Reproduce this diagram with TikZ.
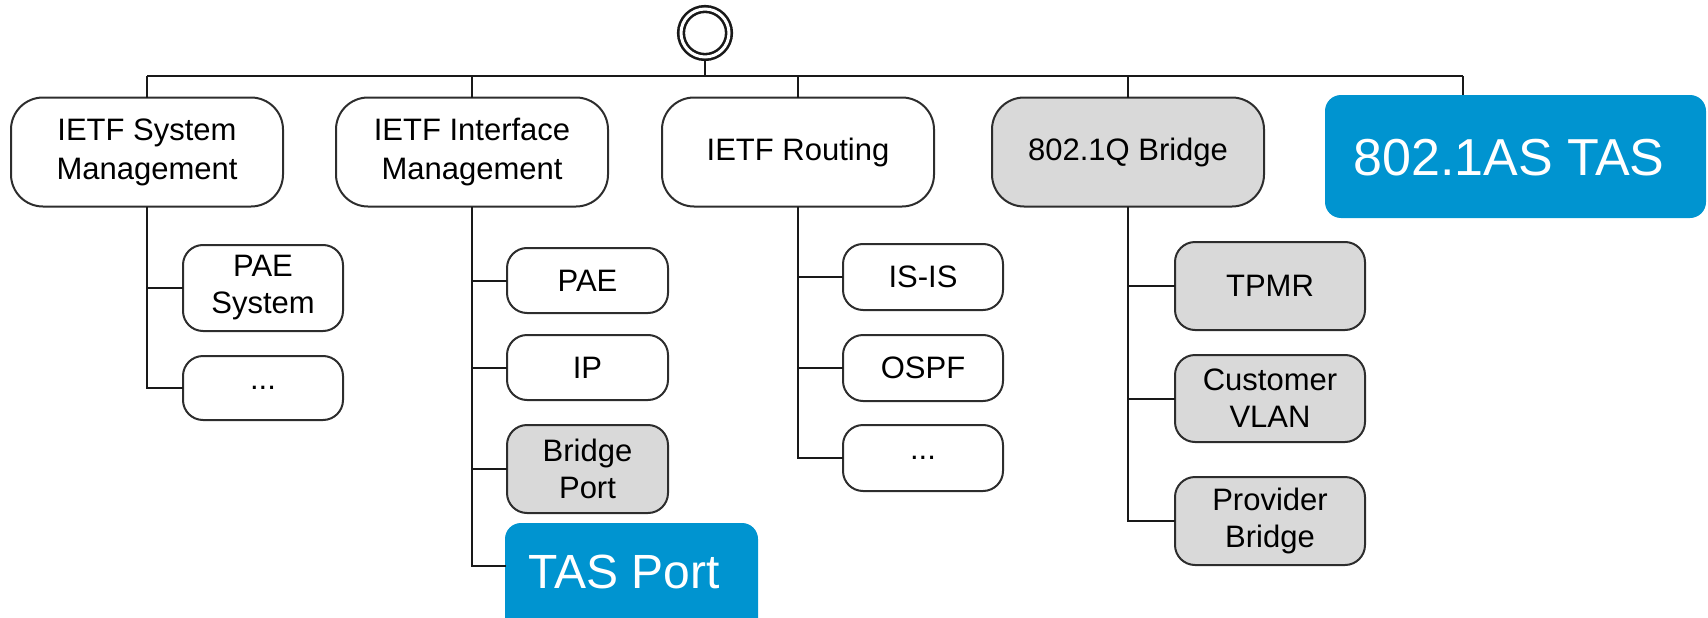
\documentclass[tikz,border=0pt]{standalone}
\usepackage{fontspec}
\setmainfont{Liberation Sans}
\definecolor{tasblue}{RGB}{0,148,208}
\definecolor{boxgray}{RGB}{217,217,217}
\definecolor{edgegray}{RGB}{45,45,45}
\begin{document}
\begin{tikzpicture}[x=1pt,y=-1pt,
  every node/.style={inner sep=0pt, outer sep=0pt},
  box/.style={draw=edgegray, line width=2pt, align=center, text=black,
    font=\fontsize{31}{37}\selectfont},
  topbox/.style={box, rounded corners=32pt, minimum width=272pt, minimum height=109pt,
    font=\fontsize{31}{39}\selectfont},
  subbox/.style={box, rounded corners=20pt},
  shaded/.style={fill=boxgray},
  bluebox/.style={fill=tasblue, rounded corners=16pt},
  bluetext/.style={text=white},
  link/.style={draw=black!90, line width=2pt},
  bus/.style={draw=black!90, line width=2.6pt}]
\useasboundingbox (0,0) rectangle (1708,618);
\clip (0,0) rectangle (1708,618);

% root
\node[circle, draw=black!90, line width=2.6pt, double=white, double distance=3pt,
      minimum size=48pt] (root) at (705,33) {};

% top level
\node[topbox] (sys)  at (147,152) {IETF System\\Management};
\node[topbox] (intf) at (472,152) {IETF Interface\\Management};
\node[topbox] (rout) at (798,152) {IETF Routing};
\node[topbox, shaded] (brg) at (1128,152) {802.1Q Bridge};
\node[bluebox, minimum width=381pt, minimum height=123pt] (tas) at (1515.5,156.5) {};
\node[bluetext, font=\fontsize{52}{56}\selectfont] (taslbl) at (1509,158) {802.1AS TAS};

% system children
\node[subbox, minimum width=160pt, minimum height=86pt] (paesys) at (263,288) {PAE\\System};
\node[subbox, minimum width=160pt, minimum height=64pt] (sysdots) at (263,388) {...};

% interface children
\node[subbox, minimum width=161pt, minimum height=65pt] (pae) at (587.5,280.5) {PAE};
\node[subbox, minimum width=161pt, minimum height=65pt] (ip) at (587.5,367.5) {IP};
\node[subbox, shaded, minimum width=161pt, minimum height=88pt] (bport) at (587.5,469) {Bridge\\Port};
\node[bluebox, minimum width=253pt, minimum height=134pt] (tasport) at (631.5,590) {};
\node[bluetext, font=\fontsize{48}{52}\selectfont] (tasportlbl) at (624,572) {TAS Port};
\coordinate (tasportin) at (506,566);

% routing children
\node[subbox, minimum width=160pt, minimum height=66pt] (isis) at (923,277) {IS-IS};
\node[subbox, minimum width=160pt, minimum height=66pt] (ospf) at (923,368) {OSPF};
\node[subbox, minimum width=160pt, minimum height=66pt] (routdots) at (923,458) {...};

% bridge children
\node[subbox, shaded, minimum width=190pt, minimum height=88pt] (tpmr) at (1270,286) {TPMR};
\node[subbox, shaded, minimum width=190pt, minimum height=87pt] (cvlan) at (1270,398.5) {Customer\\VLAN};
\node[subbox, shaded, minimum width=190pt, minimum height=88pt] (pbrg) at (1270,521) {Provider\\Bridge};

% bus
\coordinate (busc) at (705,76);
\coordinate (tasdrop) at (1463,95);
\draw[bus] (root.south) ++(0,4) -- (busc);
\draw[bus] (sys.north |- busc) -- (tasdrop |- busc);
\draw[link] (sys.north |- busc) -- (sys.north);
\draw[link] (intf.north |- busc) -- (intf.north);
\draw[link] (rout.north |- busc) -- (rout.north);
\draw[link] (brg.north |- busc) -- (brg.north);
\draw[link] (tasdrop |- busc) -- (tasdrop);

% system tree
\draw[link] (sys.south) -- (sys.south |- sysdots.west) -- (sysdots.west);
\draw[link] (sys.south |- paesys.west) -- (paesys.west);

% interface tree
\draw[link] (intf.south) -- (intf.south |- tasportin) -- (tasportin);
\draw[link] (intf.south |- pae.west) -- (pae.west);
\draw[link] (intf.south |- ip.west) -- (ip.west);
\draw[link] (intf.south |- bport.west) -- (bport.west);

% routing tree
\draw[link] (rout.south) -- (rout.south |- routdots.west) -- (routdots.west);
\draw[link] (rout.south |- isis.west) -- (isis.west);
\draw[link] (rout.south |- ospf.west) -- (ospf.west);

% bridge tree
\draw[link] (brg.south) -- (brg.south |- pbrg.west) -- (pbrg.west);
\draw[link] (brg.south |- tpmr.west) -- (tpmr.west);
\draw[link] (brg.south |- cvlan.west) -- (cvlan.west);
\end{tikzpicture}
\end{document}
